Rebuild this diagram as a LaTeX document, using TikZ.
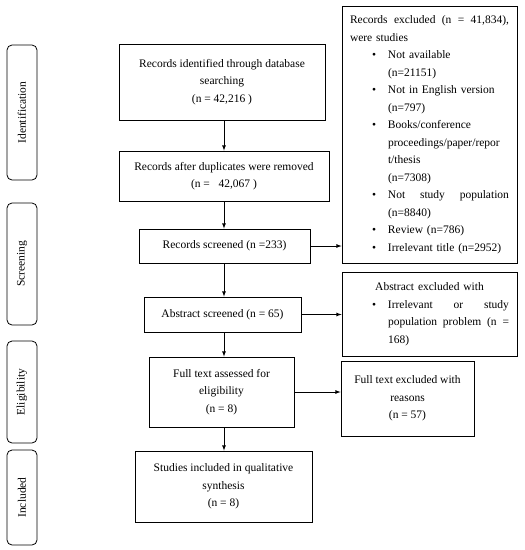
\documentclass[tikz,border=0pt]{standalone}
\usepackage{fontspec}
\setmainfont{Liberation Serif}
\usepackage{tikz}
\usetikzlibrary{positioning}

\newcommand{\exbul}{\hspace*{22pt}\makebox[16pt][l]{\textbullet}}
\newcommand{\exind}{\hspace*{38pt}}

\begin{document}
\begin{tikzpicture}[x=1pt, y=-1pt, line width=0.8pt, >=latex,
  font=\fontsize{11.5}{17.5}\selectfont]

\useasboundingbox (0,0) rectangle (525,550);

\tikzset
  {
    stageBox/.style=    {draw, rounded corners=5pt, rotate=90, minimum height=30pt, inner sep=0pt},
    flowBox/.style=     {draw, align=center, inner sep=0pt},
    exclBox/.style=     {draw, inner xsep=8pt, inner ysep=0pt, text width=159pt, align=left},
    flowArrow/.style=   {->, line width=0.8pt}
  }

% stages
{
\node[stageBox, minimum width=135pt] (sId) at (22,112.5) {Identification};
\node[stageBox, minimum width=122pt] (sScr) at (22,264) {Screening};
\node[stageBox, minimum width=102pt] (sEli) at (22,392) {Eligibility};
\node[stageBox, minimum width=95pt] (sInc) at (22,497.5) {Included};
}

% main column
{
\node[flowBox, minimum width=206pt, minimum height=76pt] (b1) at (222,82)
{Records identified through database\\ searching\\ (n = 42,216 )};
\node[flowBox, minimum width=210pt, minimum height=50pt] (b2) at (224,176)
{Records after duplicates were removed\\ (n = \ \ 42,067 )};
\node[flowBox, minimum width=171pt, minimum height=34pt] (b3) at (224.5,246)
{Records screened (n =233)};
\node[flowBox, minimum width=157pt, minimum height=35pt] (b4) at (222.5,314.5)
{Abstract screened (n = 65)};
\node[flowBox, minimum width=145pt, minimum height=70pt] (b5) at (221.5,392)
{Full text assessed for\\ eligibility\\ (n = 8)};
\node[flowBox, minimum width=177pt, minimum height=71pt] (b6) at (223.5,486.5)
{Studies included in qualitative\\ synthesis\\ (n = 8)};
}

% excluded
{
\node[exclBox, minimum height=257pt] (e1) at (429.5,134.5)
{\makebox[159pt][l]{Records\hfill excluded\hfill (n\hfill =\hfill 41,834),}\\
were studies\\
\exbul Not available\\
\exind (n=21151)\\
\exbul Not in English version\\
\exind (n=797)\\
\exbul Books/conference\\
\exind proceedings/paper/repor\\
\exind t/thesis\\
\exind (n=7308)\\
\exbul\makebox[121pt][l]{Not\hfill study\hfill population}\\
\exind (n=8840)\\
\exbul Review (n=786)\\
\exbul Irrelevant title (n=2952)};

\node[exclBox, minimum height=84pt] (e2) at (429.5,314)
{\makebox[159pt]{Abstract excluded with}\\
\exbul\makebox[121pt][l]{Irrelevant\hfill or\hfill study}\\
\exind\makebox[121pt][l]{population\hfill problem\hfill (n\hfill =}\\
\exind 168)};

\node[flowBox, minimum width=133pt, minimum height=75pt] (e3) at (407.5,398.5)
{Full text excluded with\\ reasons\\ (n = 57)};
}

% arrows
\coordinate (axis) at (224,0);
\draw[flowArrow] (b1.south -| axis) -- (b2.north -| axis);
\draw[flowArrow] (b2.south -| axis) -- (b3.north -| axis);
\draw[flowArrow] (b3.south -| axis) -- (b4.north -| axis);
\draw[flowArrow] (b4.south -| axis) -- (b5.north -| axis);
\draw[flowArrow] (b5.south -| axis) -- (b6.north -| axis);

\draw[flowArrow] (b3.east) -- (b3.east -| e1.west);
\draw[flowArrow] (b4.east) -- (b4.east -| e2.west);
\draw[flowArrow] (b5.east) -- (b5.east -| e3.west);

\end{tikzpicture}
\end{document}
